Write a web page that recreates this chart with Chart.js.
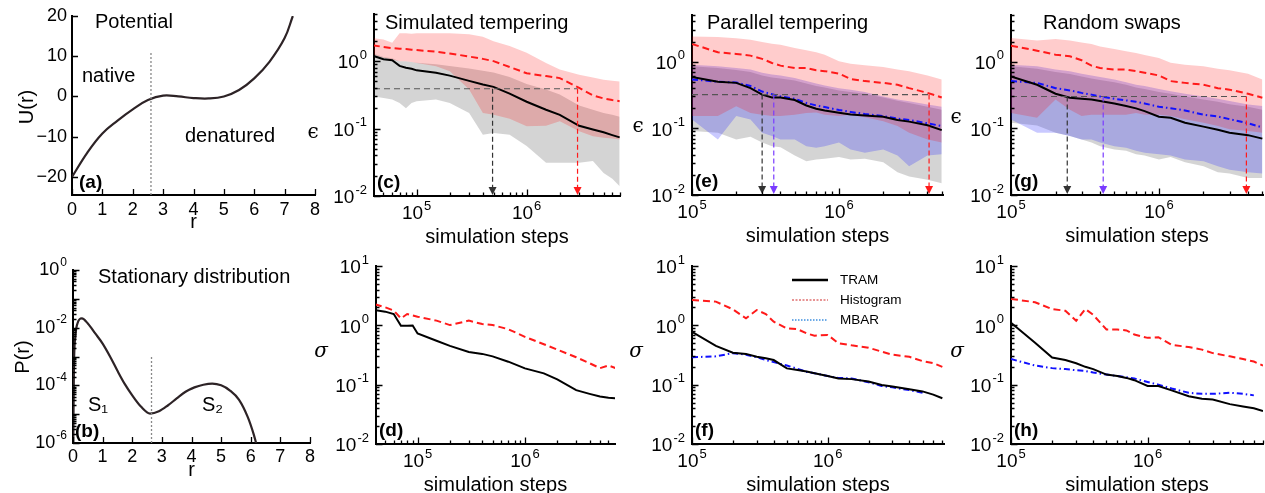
<!DOCTYPE html>
<html>
<head>
<meta charset="utf-8">
<script src="https://cdn.jsdelivr.net/npm/chart.js@4.4.1/dist/chart.umd.min.js"></script>
<style>
  html, body { margin: 0; padding: 0; background: #fff; }
  #wrap { position: relative; width: 1265px; height: 493px; overflow: hidden; }
  #wrap canvas { position: absolute; left: 0; top: 0; }
</style>
</head>
<body>
<div id="wrap">
  <canvas id="pa" width="1265" height="493"></canvas>
  <canvas id="pb" width="1265" height="493"></canvas>
  <canvas id="pc" width="1265" height="493"></canvas>
  <canvas id="pd" width="1265" height="493"></canvas>
  <canvas id="pe" width="1265" height="493"></canvas>
  <canvas id="pf" width="1265" height="493"></canvas>
  <canvas id="pg" width="1265" height="493"></canvas>
  <canvas id="ph" width="1265" height="493"></canvas>
</div>
<script>
// ---- data ----
// (a) potential
const potR = [0, 0.5, 1, 1.5, 2, 2.5, 3, 3.5, 4, 4.5, 5, 5.5, 6, 6.5, 7, 7.27];
const potU = [-20, -14, -9.2, -6, -3.2, -0.9, 0.2, 0, -0.4, -0.5, 0, 1.6, 4.5, 8.6, 14.5, 20];
const potTicksX = [0, 1, 2, 3, 4, 5, 6, 7, 8];
const potTicksY = [-20, -10, 0, 10, 20];

// (b) stationary distribution
const distR = [0.01, 0.03, 0.08, 0.15, 0.3, 0.5, 0.75, 1, 1.25, 1.5, 1.75, 2, 2.3, 2.6, 2.9, 3.2, 3.5, 3.8, 4.1, 4.4, 4.7, 5, 5.3, 5.6, 5.9, 6.1, 6.18];
const distP = [1e-6, 3.2e-4, 5.0e-3, 1.4e-2, 2.1e-2, 1.4e-2, 6.3e-3, 2.8e-3, 1.0e-3, 3.2e-4, 1.1e-4, 4.5e-5, 1.8e-5, 1.05e-5, 1.26e-5, 2.0e-5, 3.5e-5, 6.0e-5, 8.5e-5, 1.05e-4, 1.15e-4, 1.0e-4, 6.6e-5, 3.2e-5, 7.9e-6, 2.0e-6, 1e-6];
const distTicksY = [1e-6, 1e-4, 1e-2, 1];

const barrierR = 2.6;
const barrierTopU = 11;
const barrierTopP = 1.1e-3;

// simulation steps grids
const stepsST = [4e4, 5e4, 6e4, 7e4, 8e4, 9e4, 1e5, 1.5e5, 2e5, 3e5, 4e5, 5e5, 7e5, 1e6, 1.5e6, 2e6, 3e6, 4e6, 5e6, 6e6, 7e6];
const stepsPT = [1e5, 1.5e5, 2e5, 2.5e5, 3e5, 3.5e5, 4e5, 5e5, 6e5, 7e5, 8e5, 1e6, 1.2e6, 1.5e6, 2e6, 2.5e6, 3e6, 4e6, 5e6, 6e6, 7e6];
const stepTicks = [1e5, 1e6];
const epsTicks = [1e-2, 1e-1, 1];
const sigmaTicks = [1e-2, 1e-1, 1, 10];

// (c) simulated tempering, error
const cTram   = [1.2, 1.07, 1.03, 0.85, 0.80, 0.77, 0.73, 0.67, 0.61, 0.51, 0.45, 0.415, 0.33, 0.25, 0.19, 0.16, 0.11, 0.097, 0.088, 0.08, 0.074];
const cHist   = [1.72, 1.62, 1.56, 1.53, 1.51, 1.48, 1.46, 1.38, 1.3, 1.17, 1.08, 1.0, 0.82, 0.66, 0.6, 0.56, 0.4, 0.31, 0.28, 0.265, 0.255];
const cHistHi = [2.2, 2.1, 1.87, 2.6, 2.6, 2.55, 2.6, 2.6, 2.6, 2.5, 2.3, 1.98, 1.67, 1.33, 0.94, 0.75, 0.63, 0.57, 0.53, 0.51, 0.5];
const cHistLo = [1.26, 1.12, 1.06, 1.0, 1.0, 0.97, 0.94, 0.84, 0.71, 0.38, 0.17, 0.16, 0.14, 0.108, 0.11, 0.128, 0.091, 0.077, 0.073, 0.071, 0.069];
const cTramHi = [1.3, 1.15, 1.1, 1.0, 1.0, 0.97, 0.95, 0.9, 0.85, 0.78, 0.72, 0.68, 0.58, 0.46, 0.38, 0.32, 0.22, 0.19, 0.17, 0.16, 0.15];
const cTramLo = [0.30, 0.285, 0.27, 0.24, 0.20, 0.24, 0.255, 0.27, 0.24, 0.17, 0.081, 0.086, 0.081, 0.055, 0.031, 0.031, 0.031, 0.033, 0.022, 0.018, 0.014];
const cThreshold = 0.39;
const cArrows = [4.9e5, 2.9e6];

// (e) parallel tempering, error
const eTram   = [0.59, 0.50, 0.48, 0.40, 0.32, 0.29, 0.29, 0.265, 0.22, 0.196, 0.185, 0.171, 0.161, 0.156, 0.149, 0.133, 0.126, 0.111, 0.094];
const eMbar   = [0.54, 0.50, 0.486, 0.43, 0.356, 0.325, 0.30, 0.277, 0.24, 0.22, 0.208, 0.188, 0.176, 0.164, 0.153, 0.14, 0.133, 0.119, 0.108];
const eHist   = [1.84, 1.38, 1.30, 1.23, 1.10, 0.955, 0.87, 0.80, 0.80, 0.74, 0.72, 0.66, 0.55, 0.51, 0.48, 0.45, 0.40, 0.34, 0.29];
const eHistHi = [2.39, 2.33, 2.25, 2.13, 1.97, 1.86, 1.79, 1.6, 1.48, 1.38, 1.27, 1.01, 0.93, 0.88, 0.83, 0.76, 0.72, 0.62, 0.54];
const eHistLo = [0.153, 0.153, 0.215, 0.17, 0.16, 0.153, 0.153, 0.16, 0.17, 0.172, 0.16, 0.153, 0.16, 0.146, 0.128, 0.108, 0.086, 0.068, 0.061];
const eMbarHi = [0.9, 0.85, 0.80, 0.76, 0.68, 0.64, 0.62, 0.57, 0.51, 0.47, 0.44, 0.40, 0.38, 0.35, 0.30, 0.27, 0.255, 0.228, 0.21];
const eMbarLo = [0.136, 0.068, 0.153, 0.136, 0.086, 0.077, 0.068, 0.068, 0.054, 0.051, 0.054, 0.061, 0.048, 0.043, 0.048, 0.039, 0.027, 0.039, 0.041];
const eTramHi = [0.85, 0.80, 0.75, 0.70, 0.62, 0.58, 0.56, 0.52, 0.47, 0.43, 0.41, 0.37, 0.35, 0.33, 0.29, 0.26, 0.24, 0.21, 0.19];
const eTramLo = [0.091, 0.086, 0.068, 0.075, 0.061, 0.054, 0.052, 0.039, 0.032, 0.034, 0.035, 0.037, 0.034, 0.035, 0.031, 0.022, 0.019, 0.017, 0.015];
const eThreshold = 0.32;
const eArrows = [3.0e5, 3.6e5, 4.1e6];

// (g) random swaps, error
const gTram   = [0.60, 0.45, 0.33, 0.287, 0.277, 0.27, 0.256, 0.236, 0.216, 0.199, 0.181, 0.149, 0.144, 0.121, 0.106, 0.095, 0.086, 0.079, 0.070];
const gMbar   = [0.51, 0.48, 0.40, 0.37, 0.34, 0.32, 0.30, 0.277, 0.262, 0.25, 0.236, 0.21, 0.20, 0.185, 0.16, 0.15, 0.137, 0.119, 0.103];
const gHist   = [1.73, 1.46, 1.27, 1.2, 1.05, 0.87, 0.80, 0.76, 0.76, 0.72, 0.68, 0.62, 0.51, 0.48, 0.45, 0.40, 0.38, 0.33, 0.287];
const gHistHi = [2.26, 2.08, 2.18, 2.08, 1.94, 1.83, 1.69, 1.55, 1.43, 1.35, 1.26, 1.13, 0.96, 0.9, 0.85, 0.78, 0.74, 0.66, 0.54];
const gHistLo = [0.17, 0.144, 0.27, 0.19, 0.153, 0.16, 0.16, 0.16, 0.16, 0.17, 0.16, 0.16, 0.153, 0.137, 0.121, 0.108, 0.097, 0.091, 0.086];
const gMbarHi = [0.90, 0.85, 0.76, 0.72, 0.66, 0.62, 0.59, 0.54, 0.49, 0.45, 0.43, 0.39, 0.36, 0.33, 0.30, 0.277, 0.256, 0.228, 0.216];
const gMbarLo = [0.136, 0.086, 0.086, 0.077, 0.068, 0.068, 0.061, 0.054, 0.051, 0.046, 0.043, 0.041, 0.039, 0.034, 0.032, 0.027, 0.024, 0.022, 0.021];
const gTramHi = [0.85, 0.78, 0.70, 0.65, 0.60, 0.56, 0.53, 0.49, 0.45, 0.41, 0.39, 0.35, 0.33, 0.30, 0.27, 0.25, 0.23, 0.21, 0.19];
const gTramLo = [0.121, 0.11, 0.086, 0.077, 0.068, 0.061, 0.054, 0.048, 0.046, 0.041, 0.039, 0.034, 0.037, 0.031, 0.027, 0.022, 0.021, 0.018, 0.018];
const gThreshold = 0.30;
const gArrows = [2.4e5, 4.2e5, 3.9e6];

// (d) (f) (h) standard deviation
const dTram = [1.81, 1.70, 1.55, 0.98, 0.98, 0.99, 0.73, 0.55, 0.45, 0.355, 0.33, 0.30, 0.244, 0.188, 0.155, 0.123, 0.081, 0.070, 0.063, 0.060, 0.059];
const dHist = [2.26, 2.01, 1.77, 1.31, 1.55, 1.47, 1.40, 1.2, 1.01, 1.2, 1.05, 1.01, 0.86, 0.64, 0.48, 0.39, 0.29, 0.23, 0.19, 0.21, 0.19];
const fTram = [0.78, 0.45, 0.346, 0.33, 0.296, 0.278, 0.26, 0.188, 0.177, 0.166, 0.156, 0.14, 0.127, 0.124, 0.113, 0.099, 0.093, 0.084, 0.077, 0.068, 0.059];
const fMbar = [0.29, 0.30, 0.34, 0.32, 0.29, 0.26, 0.24, 0.21, 0.185, 0.164, 0.156, 0.14, 0.13, 0.127, 0.11, 0.095, 0.09, 0.081, 0.073];
const fHist = [2.67, 2.51, 1.86, 1.31, 1.81, 1.55, 1.15, 0.89, 0.86, 0.73, 0.67, 0.69, 0.50, 0.46, 0.42, 0.36, 0.32, 0.295, 0.25, 0.23, 0.20];
const hTram = [1.11, 0.51, 0.286, 0.26, 0.23, 0.20, 0.183, 0.148, 0.14, 0.13, 0.119, 0.095, 0.095, 0.08, 0.064, 0.058, 0.056, 0.047, 0.043, 0.04, 0.036];
const hMbar = [0.27, 0.21, 0.19, 0.183, 0.175, 0.17, 0.16, 0.148, 0.14, 0.134, 0.127, 0.111, 0.10, 0.086, 0.073, 0.07, 0.07, 0.073, 0.07, 0.066];
const hHist = [2.79, 2.45, 1.88, 1.76, 1.19, 1.88, 1.50, 0.85, 0.85, 0.82, 0.70, 0.615, 0.63, 0.47, 0.43, 0.39, 0.34, 0.30, 0.27, 0.245, 0.21];

const legendNames = ['TRAM', 'Histogram', 'MBAR'];

// ---- styling ----
const FONT = '"Liberation Sans", Arial, Helvetica, sans-serif';
const RED = '#ff1a1a', BLUE = '#1010ff', CURVE = '#2d2326';
const TRAM_BAND = 'rgba(0,0,0,0.17)';
const HIST_BAND = 'rgba(255,0,0,0.2)';
const MBAR_BAND = 'rgba(30,30,255,0.24)';

function font(size, bold) { return (bold ? 'bold ' : '') + size + 'px ' + FONT; }

function text(ctx, s, x, y, size, align, bold) {
  ctx.font = font(size, bold);
  ctx.fillStyle = '#000';
  ctx.textAlign = align || 'left';
  ctx.textBaseline = 'middle';
  ctx.fillText(s, x, y);
}

function powText(ctx, v, x, y, align, size) {
  const e = String(Math.round(Math.log10(v)));
  const es = Math.round(size * 0.68);
  ctx.font = font(size); const bw = ctx.measureText('10').width;
  ctx.font = font(es); const ew = ctx.measureText(e).width;
  const total = bw + ew + 1;
  const x0 = align === 'right' ? x - total : align === 'center' ? x - total / 2 : x;
  ctx.fillStyle = '#000';
  ctx.textAlign = 'left';
  ctx.textBaseline = 'middle';
  ctx.font = font(size); ctx.fillText('10', x0, y);
  ctx.font = font(es); ctx.fillText(e, x0 + bw + 1, y - size * 0.42);
}

function isPow(v) { const l = Math.log10(v); return Math.abs(l - Math.round(l)) < 1e-9; }

function logMinor(min, max) {
  const out = [];
  for (let d = Math.floor(Math.log10(min)); d <= Math.ceil(Math.log10(max)); d++) {
    for (let k = 1; k <= 9; k++) {
      const v = k * Math.pow(10, d);
      if (v >= min * 0.999 && v <= max * 1.001) out.push(v);
    }
  }
  return out;
}

function inTicks(ctx, scale, a, vals, len, horizontal) {
  ctx.strokeStyle = '#000';
  ctx.lineWidth = 1.3;
  ctx.setLineDash([]);
  ctx.beginPath();
  vals.forEach(v => {
    const p = Math.round(scale.getPixelForValue(v)) + 0.5;
    if (horizontal) { ctx.moveTo(p, a.bottom); ctx.lineTo(p, a.bottom - len); }
    else { ctx.moveTo(a.left, p); ctx.lineTo(a.left + len, p); }
  });
  ctx.stroke();
}

function logTicks(ctx, scale, a, horizontal) {
  const all = logMinor(scale.min, scale.max);
  inTicks(ctx, scale, a, all.filter(v => !isPow(v)), 3.5, horizontal);
  inTicks(ctx, scale, a, all.filter(isPow), 6.5, horizontal);
}

function arrowDown(ctx, px, yTop, a, color) {
  ctx.strokeStyle = color;
  ctx.lineWidth = 1.2;
  ctx.setLineDash([5, 3]);
  ctx.beginPath(); ctx.moveTo(px, yTop); ctx.lineTo(px, a.bottom - 7); ctx.stroke();
  ctx.setLineDash([]);
  ctx.fillStyle = color;
  ctx.beginPath();
  ctx.moveTo(px - 4, a.bottom - 9); ctx.lineTo(px + 4, a.bottom - 9); ctx.lineTo(px, a.bottom - 1);
  ctx.closePath(); ctx.fill();
}

function greek(ctx, s, x, y, italic) {
  ctx.font = (italic ? 'italic ' : '') + '20px "DejaVu Serif", "Liberation Serif", serif';
  ctx.fillStyle = '#000';
  ctx.textAlign = 'center';
  ctx.textBaseline = 'middle';
  ctx.fillText(s, x, y);
}

function pts(xs, ys) { return ys.map((y, i) => ({ x: xs[i], y })); }

function lineSet(xs, ys, color, dash, width) {
  return { data: pts(xs, ys), borderColor: color, borderWidth: width || 2, borderDash: dash || [],
           pointRadius: 0, fill: false, tension: 0, order: 0 };
}

function bandSets(xs, hi, lo, color, order) {
  return [
    { data: pts(xs, hi), borderColor: 'transparent', borderWidth: 0, pointRadius: 0,
      backgroundColor: color, fill: '+1', tension: 0, order },
    { data: pts(xs, lo), borderColor: 'transparent', borderWidth: 0, pointRadius: 0,
      fill: false, tension: 0, order }
  ];
}

function axis(type, min, max, pos) {
  return {
    type, min, max, position: pos,
    ticks: { display: false },
    grid: { display: false, drawTicks: false },
    border: { display: true, color: '#000', width: 2 },
    afterFit(s) { if (pos === 'bottom') s.height = 0; else s.width = 0; }
  };
}

function makeChart(id, rect, datasets, xAxis, yAxis, draw) {
  new Chart(document.getElementById(id), {
    type: 'line',
    data: { datasets },
    options: {
      responsive: false, animation: false, devicePixelRatio: 1, events: [],
      layout: { padding: { left: rect[0], top: rect[1], right: 1265 - rect[2], bottom: 493 - rect[3] } },
      plugins: { legend: { display: false }, tooltip: { enabled: false } },
      scales: { x: xAxis, y: yAxis }
    },
    plugins: [{
      id: 'deco_' + id,
      afterDraw(chart) {
        const { ctx, chartArea: a, scales: { x, y } } = chart;
        ctx.save();
        draw(ctx, a, x, y);
        ctx.restore();
      }
    }]
  });
}

// ---- (a) potential ----
makeChart('pa', [72, 16, 315, 195],
  [Object.assign(lineSet(potR, potU, CURVE, [], 2.2), { tension: 0.4 })],
  axis('linear', 0, 8, 'bottom'), axis('linear', -24.5, 20, 'left'),
  (ctx, a, x, y) => {
    const bx = x.getPixelForValue(barrierR);
    ctx.strokeStyle = '#888'; ctx.lineWidth = 1.3; ctx.setLineDash([2, 2]);
    ctx.beginPath(); ctx.moveTo(bx, a.bottom); ctx.lineTo(bx, y.getPixelForValue(barrierTopU)); ctx.stroke();
    inTicks(ctx, x, a, potTicksX, 6, true);
    inTicks(ctx, y, a, potTicksY, 6, false);
    potTicksX.forEach(v => text(ctx, String(v), x.getPixelForValue(v), a.bottom + 15, 18, 'center'));
    potTicksY.forEach(v => text(ctx, v < 0 ? '\u2212' + (-v) : String(v), a.left - 5, y.getPixelForValue(v), 18, 'right'));
    text(ctx, 'r', (a.left + a.right) / 2, a.bottom + 27, 20, 'center');
    ctx.save(); ctx.translate(27, 107); ctx.rotate(-Math.PI / 2);
    text(ctx, 'U(r)', 0, 0, 20, 'center'); ctx.restore();
    text(ctx, 'Potential', 95, 22, 20);
    text(ctx, 'native', 82, 76, 20);
    text(ctx, 'denatured', 185, 136, 20);
    text(ctx, '(a)', 79, 183, 19, 'left', true);
  });

// ---- (b) stationary distribution ----
makeChart('pb', [73, 270, 310, 443],
  [Object.assign(lineSet(distR, distP, CURVE, [], 2.2), { cubicInterpolationMode: 'monotone' })],
  axis('linear', 0, 8, 'bottom'), axis('logarithmic', 1e-6, 1, 'left'),
  (ctx, a, x, y) => {
    const bx = x.getPixelForValue(barrierR + 0.05);
    ctx.strokeStyle = '#888'; ctx.lineWidth = 1.3; ctx.setLineDash([2, 2]);
    ctx.beginPath(); ctx.moveTo(bx, a.bottom); ctx.lineTo(bx, y.getPixelForValue(barrierTopP)); ctx.stroke();
    inTicks(ctx, x, a, potTicksX, 6, true);
    logTicks(ctx, y, a, false);
    potTicksX.forEach(v => text(ctx, String(v), x.getPixelForValue(v), a.bottom + 14, 18, 'center'));
    distTicksY.forEach(v => powText(ctx, v, a.left - 6, y.getPixelForValue(v), 'right', 18));
    text(ctx, 'r', (a.left + a.right) / 2, a.bottom + 27, 20, 'center');
    ctx.save(); ctx.translate(23, 357); ctx.rotate(-Math.PI / 2);
    text(ctx, 'P(r)', 0, 0, 20, 'center'); ctx.restore();
    text(ctx, 'Stationary distribution', 98, 277, 20);
    text(ctx, 'S\u2081', 88, 405, 20);
    text(ctx, 'S\u2082', 202, 405, 20);
    text(ctx, '(b)', 75, 432, 19, 'left', true);
  });

// ---- log panels ----
function logPanelDeco(p) {
  return (ctx, a, x, y) => {
    if (p.threshold) {
      const ty = y.getPixelForValue(p.threshold);
      const xs = p.arrows.map(v => x.getPixelForValue(v));
      ctx.strokeStyle = '#555'; ctx.lineWidth = 1.1; ctx.setLineDash([6, 4]);
      ctx.beginPath(); ctx.moveTo(a.left, ty); ctx.lineTo(xs[xs.length - 1], ty); ctx.stroke();
      xs.forEach((px, i) => arrowDown(ctx, px, ty, a, p.arrowColors[i]));
    }
    logTicks(ctx, x, a, true);
    logTicks(ctx, y, a, false);
    stepTicks.forEach(v => powText(ctx, v, x.getPixelForValue(v), a.bottom + 18, 'center', 19));
    p.yTicks.forEach(v => powText(ctx, v, a.left - 7, y.getPixelForValue(v) + 2, 'right', 19));
    text(ctx, 'simulation steps', (a.left + a.right) / 2, a.bottom + 41, 20, 'center');
    if (p.title) text(ctx, p.title, p.titleX, 23, 20);
    text(ctx, p.letter, a.left + 3, a.bottom - 13, 19, 'left', true);
    greek(ctx, p.greek, p.greekPos[0], p.greekPos[1], p.greek === '\u03c3');
    if (p.legend) p.legend(ctx);
  };
}

const arrowCols3 = ['#333', '#7a3cff', RED];

makeChart('pc', [374, 14, 620, 196],
  [lineSet(stepsST, cTram, '#000'), lineSet(stepsST, cHist, RED, [7, 4]),
   ...bandSets(stepsST, cHistHi, cHistLo, HIST_BAND, 1),
   ...bandSets(stepsST, cTramHi, cTramLo, TRAM_BAND, 3)],
  axis('logarithmic', 4.1e4, 7.05e6, 'bottom'), axis('logarithmic', 0.01, 5, 'left'),
  logPanelDeco({ threshold: cThreshold, arrows: cArrows, arrowColors: ['#333', RED], yTicks: epsTicks,
                 title: 'Simulated tempering', titleX: 385, letter: '(c)', greek: '\u03f5', greekPos: [313, 133] }));

makeChart('pe', [692, 15, 943, 195],
  [lineSet(stepsPT, eTram, '#000'), lineSet(stepsPT, eMbar, BLUE, [6, 3, 1.5, 3]), lineSet(stepsPT, eHist, RED, [7, 4]),
   ...bandSets(stepsPT, eHistHi, eHistLo, HIST_BAND, 1),
   ...bandSets(stepsPT, eMbarHi, eMbarLo, MBAR_BAND, 2),
   ...bandSets(stepsPT, eTramHi, eTramLo, TRAM_BAND, 3)],
  axis('logarithmic', 1e5, 5.1e6, 'bottom'), axis('logarithmic', 0.01, 5, 'left'),
  logPanelDeco({ threshold: eThreshold, arrows: eArrows, arrowColors: arrowCols3, yTicks: epsTicks,
                 title: 'Parallel tempering', titleX: 707, letter: '(e)', greek: '\u03f5', greekPos: [638, 127] }));

makeChart('pg', [1011, 15, 1263, 195],
  [lineSet(stepsPT, gTram, '#000'), lineSet(stepsPT, gMbar, BLUE, [6, 3, 1.5, 3]), lineSet(stepsPT, gHist, RED, [7, 4]),
   ...bandSets(stepsPT, gHistHi, gHistLo, HIST_BAND, 1),
   ...bandSets(stepsPT, gMbarHi, gMbarLo, MBAR_BAND, 2),
   ...bandSets(stepsPT, gTramHi, gTramLo, TRAM_BAND, 3)],
  axis('logarithmic', 1e5, 5.05e6, 'bottom'), axis('logarithmic', 0.01, 5, 'left'),
  logPanelDeco({ threshold: gThreshold, arrows: gArrows, arrowColors: arrowCols3, yTicks: epsTicks,
                 title: 'Random swaps', titleX: 1043, letter: '(g)', greek: '\u03f5', greekPos: [956, 118] }));

makeChart('pd', [376, 266, 615, 444],
  [lineSet(stepsST, dTram, '#000'), lineSet(stepsST, dHist, RED, [7, 4])],
  axis('logarithmic', 4.1e4, 6.9e6, 'bottom'), axis('logarithmic', 0.01, 10, 'left'),
  logPanelDeco({ yTicks: sigmaTicks, letter: '(d)', greek: '\u03c3', greekPos: [321, 352] }));

makeChart('pf', [692, 266, 944, 444],
  [lineSet(stepsPT, fTram, '#000'), lineSet(stepsPT, fMbar, BLUE, [6, 3, 1.5, 3]), lineSet(stepsPT, fHist, RED, [7, 4])],
  axis('logarithmic', 1e5, 7.2e6, 'bottom'), axis('logarithmic', 0.01, 10, 'left'),
  logPanelDeco({ yTicks: sigmaTicks, letter: '(f)', greek: '\u03c3', greekPos: [636, 352],
    legend: (ctx) => {
      const styles = [['#000', [], 2.5], ['#d02828', [2, 1.5], 1], ['#3d8fe0', [1.5, 1.5], 1.6]];
      styles.forEach((s, i) => {
        const yy = 280 + i * 20;
        ctx.strokeStyle = s[0]; ctx.setLineDash(s[1]); ctx.lineWidth = s[2];
        ctx.beginPath(); ctx.moveTo(792, yy); ctx.lineTo(828, yy); ctx.stroke();
        text(ctx, legendNames[i], 840, yy, 13.5);
      });
      ctx.setLineDash([]);
    } }));

makeChart('ph', [1011, 266, 1263, 444],
  [lineSet(stepsPT, hTram, '#000'), lineSet(stepsPT, hMbar, BLUE, [6, 3, 1.5, 3]), lineSet(stepsPT, hHist, RED, [7, 4])],
  axis('logarithmic', 1e5, 7.0e6, 'bottom'), axis('logarithmic', 0.01, 10, 'left'),
  logPanelDeco({ yTicks: sigmaTicks, letter: '(h)', greek: '\u03c3', greekPos: [957, 352] }));
</script>
</body>
</html>
